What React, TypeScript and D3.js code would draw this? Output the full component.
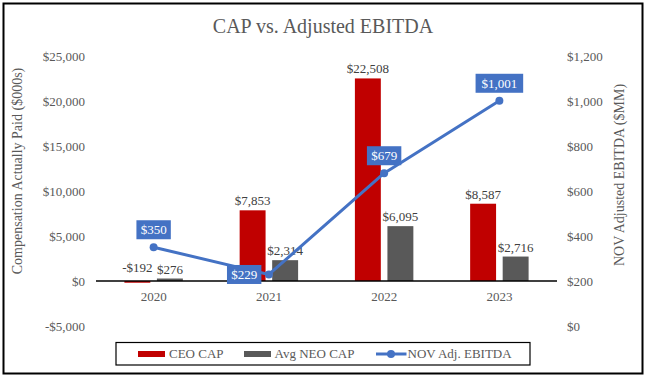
import React from "react";
import * as d3 from "d3";

const years = ["2020", "2021", "2022", "2023"];
const ceoCap = [-192, 7853, 22508, 8587];
const neoCap = [276, 2314, 6095, 2716];
const ebitda = [350, 229, 679, 1001];
const leftTicks = [-5000, 0, 5000, 10000, 15000, 20000, 25000];
const rightTicks = [0, 200, 400, 600, 800, 1000, 1200];
const ebitdaLabelPos = ["above", "left", "above", "above"];

const W = 646;
const H = 378;
const FONT = "Liberation Serif";
const TEXT = "#595959";
const BLUE = "#4472C4";

const fmt = (v: number) => (v < 0 ? "-$" : "$") + d3.format(",")(Math.abs(v));

const T = (props: any) => <text fontFamily={FONT} style={{ fontFamily: FONT }} {...props} />;

export default function App() {
  const x = d3.scaleBand<string>().domain(years).range([96, 557]);
  const yL = d3.scaleLinear().domain([-5000, 25000]).range([326, 56]);
  const yR = d3.scaleLinear().domain([0, 1200]).range([326, 56]);
  const bw = x.bandwidth();
  const barW = bw * 0.225;
  const half = bw / 2;

  const line = d3
    .line<number>()
    .x((_, i) => x(years[i])! + half)
    .y((d) => yR(d));

  const boxW = (t: string) => t.length * 6.6 + 8;

  return (
    <svg width={W} height={H} style={{ position: "absolute", left: 0, top: 0, fontFamily: FONT }}>
      <rect x={0} y={0} width={W} height={H} fill="#fff" />
      <rect x={3.5} y={3.5} width={639} height={370} fill="none" stroke="#000" strokeWidth={2} />
      <T x={323} y={33} textAnchor="middle" fontSize={20} fill={TEXT}>
        CAP vs. Adjusted EBITDA
      </T>

      {leftTicks.map((t) => (
        <T key={"l" + t} x={85} y={yL(t) + 4.5} textAnchor="end" fontSize={13} fill={TEXT}>
          {fmt(t)}
        </T>
      ))}
      {rightTicks.map((t) => (
        <T key={"r" + t} x={567} y={yR(t) + 4.5} textAnchor="start" fontSize={13} fill={TEXT}>
          {fmt(t)}
        </T>
      ))}
      <T transform={`translate(22,${171}) rotate(-90)`} textAnchor="middle" fontSize={14} fill={TEXT}>
        Compensation Actually Paid ($000s)
      </T>
      <T transform={`translate(624,${175}) rotate(-90)`} textAnchor="middle" fontSize={14} fill={TEXT}>
        NOV Adjusted EBITDA ($MM)
      </T>

      {years.map((yr, i) => {
        const cx = x(yr)! + half;
        const c = ceoCap[i];
        const n = neoCap[i];
        return (
          <g key={yr}>
            <rect
              x={cx - 3.3 - barW}
              y={Math.min(yL(c), yL(0))}
              width={barW}
              height={Math.abs(yL(c) - yL(0))}
              fill="#C00000"
            />
            <rect
              x={cx + 3.3}
              y={Math.min(yL(n), yL(0))}
              width={barW}
              height={Math.abs(yL(n) - yL(0))}
              fill="#595959"
            />
            <T
              x={cx - 3.3 - barW / 2}
              y={Math.min(yL(c), yL(0)) - (c < 0 ? 9 : 5)}
              textAnchor="middle"
              fontSize={13}
              fill="#404040"
            >
              {fmt(c)}
            </T>
            <T
              x={cx + 3.3 + barW / 2}
              y={Math.min(yL(n), yL(0)) - 5}
              textAnchor="middle"
              fontSize={13}
              fill="#404040"
            >
              {fmt(n)}
            </T>
            <T x={cx} y={301} textAnchor="middle" fontSize={13} fill={TEXT}>
              {yr}
            </T>
          </g>
        );
      })}

      <line x1={96} x2={557} y1={yL(0)} y2={yL(0)} stroke="#000" strokeWidth={1.5} />

      <path d={line(ebitda) || ""} fill="none" stroke={BLUE} strokeWidth={3} strokeLinejoin="round" />
      {ebitda.map((v, i) => {
        const cx = x(years[i])! + half;
        const cy = yR(v);
        const t = fmt(v);
        const w = boxW(t);
        const h = 19;
        let bx = cx - w / 2;
        let by = cy - 17.5 - h / 2;
        if (ebitdaLabelPos[i] === "left") {
          bx = cx - 7.5 - w;
          by = cy - h / 2;
        }
        return (
          <g key={"e" + i}>
            <circle cx={cx} cy={cy} r={4} fill={BLUE} />
            <rect x={bx} y={by} width={w} height={h} fill={BLUE} />
            <T x={bx + w / 2} y={by + h / 2 + 4.5} textAnchor="middle" fontSize={13} fill="#fff">
              {t}
            </T>
          </g>
        );
      })}

      <rect x={116} y={342.5} width={414} height={22.5} fill="#fff" stroke="#000" strokeWidth={1.2} />
      <rect x={138} y={351} width={27} height={6} fill="#C00000" />
      <T x={169} y={358} fontSize={13} fill={TEXT}>CEO CAP</T>
      <rect x={244} y={351} width={27} height={6} fill="#595959" />
      <T x={274.5} y={358} fontSize={13} fill={TEXT}>Avg NEO CAP</T>
      <line x1={376} x2={406.5} y1={354} y2={354} stroke={BLUE} strokeWidth={3} />
      <circle cx={391} cy={354} r={4} fill={BLUE} />
      <T x={407.5} y={358} fontSize={13} fill={TEXT}>NOV Adj. EBITDA</T>
    </svg>
  );
}
